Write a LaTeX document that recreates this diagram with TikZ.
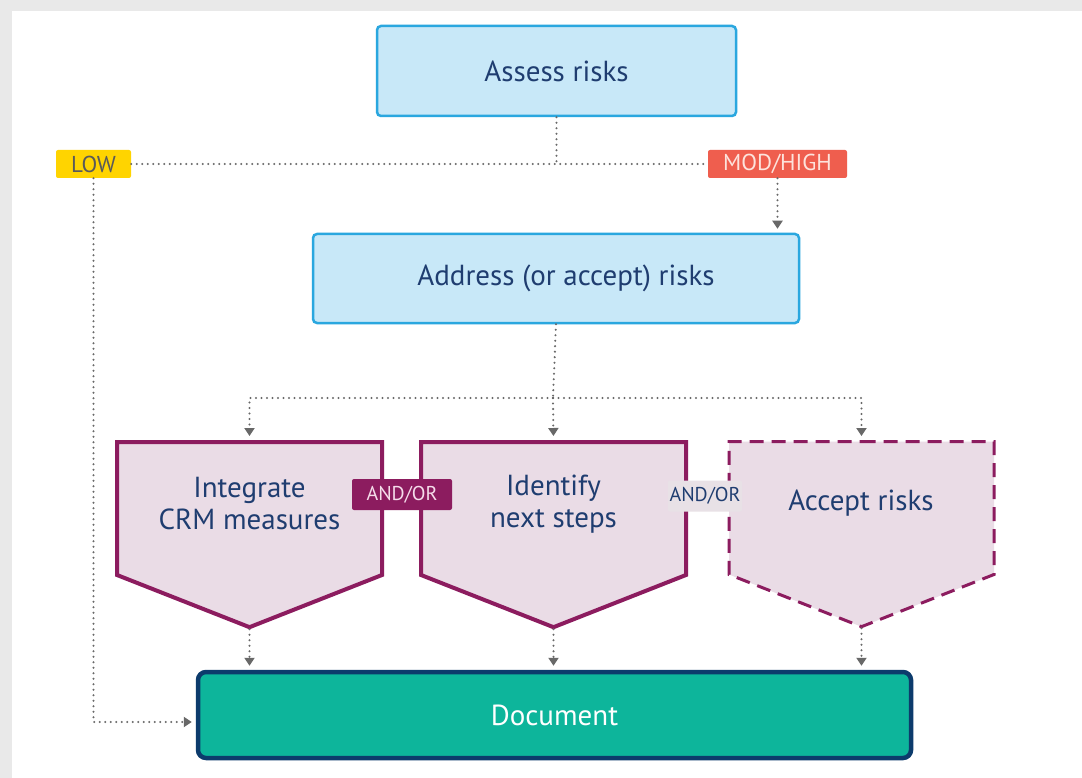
\documentclass[tikz,border=0pt]{standalone}
\usepackage{fontspec}
\setmainfont{PT Sans}
\usetikzlibrary{arrows.meta,shapes.symbols}

\definecolor{navytext}{HTML}{1F3D70}
\definecolor{assessfill}{HTML}{C8E8F8}
\definecolor{assessline}{HTML}{2AA7DF}
\definecolor{lowfill}{HTML}{FFD400}
\definecolor{lowtext}{HTML}{5A5A5A}
\definecolor{highfill}{HTML}{EF5E4E}
\definecolor{hightext}{HTML}{FDE3DC}
\definecolor{pentfill}{HTML}{EADCE6}
\definecolor{pentline}{HTML}{8C1C5F}
\definecolor{andtext}{HTML}{F5DCEA}
\definecolor{andfill}{HTML}{E8E1E6}
\definecolor{docfill}{HTML}{0DB59B}
\definecolor{docline}{HTML}{0C3B6C}
\definecolor{dotgrey}{HTML}{686868}
\definecolor{pagegrey}{HTML}{E9E9E9}

\tikzset{
  box/.style={draw=assessline, fill=assessfill, line width=2.5pt, rounded corners=4pt,
    text=navytext, inner sep=0pt, font=\fontsize{29}{32}\selectfont},
  tag/.style={inner sep=0pt, rounded corners=2pt, font=\fontsize{23}{26}\selectfont},
  andor/.style={inner sep=0pt, rounded corners=2pt, minimum height=31pt,
    font=\fontsize{20}{22}\selectfont},
  pent/.style={signal, signal to=south, signal pointer angle=137, fill=pentfill,
    draw=pentline, line width=4pt, inner sep=0pt, minimum width=265pt, minimum height=133pt},
  penttext/.style={text=navytext, align=center, inner sep=0pt, font=\fontsize{29}{32}\selectfont},
  dotline/.style={draw=dotgrey, line width=2.3pt, line cap=round, dash pattern=on 0pt off 5.5pt},
  dotarrow/.style={dotline, -{Triangle[width=10pt,length=8pt]}, shorten >=4pt},
}

\begin{document}
\begin{tikzpicture}[x=1pt, y=-1pt]
    \useasboundingbox (0,0) rectangle (1082,778);
    \fill[pagegrey] (0,0) rectangle (1082,778);
    \fill[white] (12,11) rectangle (1082,778);

    \node[box, minimum width=359pt, minimum height=90pt] (assess) at (556.5,71) {Assess risks};
    \node[tag, fill=lowfill, text=lowtext, minimum width=75pt, minimum height=28pt] (low) at (93.5,164) {LOW};
    \node[tag, fill=highfill, text=hightext, minimum width=139pt, minimum height=28pt] (high) at (777.5,164) {MOD/HIGH};
    \node[box, minimum width=486pt, minimum height=89pt] (address) at (556,278.5) {\hspace*{20pt}Address (or accept) risks};

    \node[pent, anchor=north] (integrate) at (249.5,440) {};
    \node[pent, anchor=north] (identify) at (553.5,440) {};
    \node[pent, dash pattern=on 14pt off 8pt, line width=3pt, anchor=north] (accept) at (861.5,440) {};
    \node[penttext] (integratetext) at (249.5,504) {Integrate\\CRM measures};
    \node[penttext] (identifytext) at (553.5,504) {Identify\\next steps};
    \node[penttext] (accepttext) at (861,503) {Accept risks};

    \node[andor, fill=pentline, text=andtext, minimum width=100pt] (and1) at (402,494.5) {AND/OR};
    \node[andor, fill=andfill, text=navytext, minimum width=74pt] (and2) at (705,496) {AND/OR};

    \node[box, draw=docline, fill=docfill, text=white, line width=4.5pt, rounded corners=8pt,
      minimum width=713pt, minimum height=86pt] (doc) at (554.5,715) {Document};

    % dotted connectors
    \coordinate (split) at (553,398);
    \draw[dotline] (assess.south) -- (assess.south |- low.east);
    \draw[dotline] (low.east) -- (high.west);
    \draw[dotarrow] (high.south) -- (high.south |- address.north);
    \draw[dotarrow] (low.south) |- ([yshift=-7pt]doc.west);
    \draw[dotline] (address.south) -- (split);
    \draw[dotarrow] (split) -| (integrate.north);
    \draw[dotarrow] (split) -- (identify.north);
    \draw[dotarrow] (split) -| (accept.north);
    \draw[dotarrow] (integrate.south) -- (integrate.south |- doc.north);
    \draw[dotarrow] (identify.south) -- (identify.south |- doc.north);
    \draw[dotarrow] (accept.south) -- (accept.south |- doc.north);
\end{tikzpicture}
\end{document}
